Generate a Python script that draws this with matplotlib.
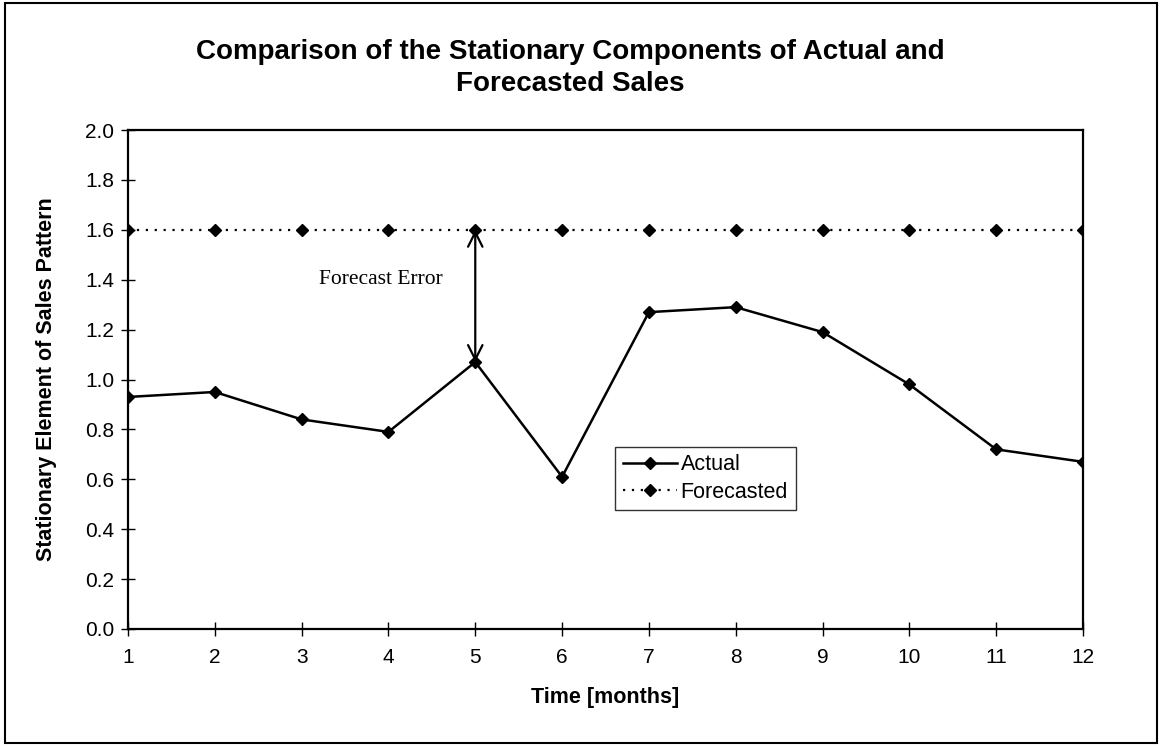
import matplotlib
matplotlib.use("Agg")
import matplotlib.pyplot as plt
from matplotlib.patches import Rectangle

# Data
months = [1, 2, 3, 4, 5, 6, 7, 8, 9, 10, 11, 12]
actual = [0.93, 0.95, 0.84, 0.79, 1.07, 0.61, 1.27, 1.29, 1.19, 0.98, 0.72, 0.67]
forecasted = [1.6, 1.6, 1.6, 1.6, 1.6, 1.6, 1.6, 1.6, 1.6, 1.6, 1.6, 1.6]
yticks = [0.0, 0.2, 0.4, 0.6, 0.8, 1.0, 1.2, 1.4, 1.6, 1.8, 2.0]

plt.rcParams['font.family'] = ['Liberation Sans', 'DejaVu Sans']

W, H = 1160, 746
fig = plt.figure(figsize=(W / 100, H / 100), dpi=100)
ax = fig.add_axes([128 / W, 1 - 629 / H, (1083 - 128) / W, (629 - 130) / H])

ax.plot(months, actual, color='black', lw=1.8, marker='D', ms=6.5, label='Actual')
ax.plot(months, forecasted, color='black', lw=1.6, ls=(0, (1, 3)), marker='D', ms=6.5,
        label='Forecasted')

ax.set_xlim(1, 12)
ax.set_ylim(0, 2.0)
ax.set_xticks(months)
ax.set_yticks(yticks)
ax.set_yticklabels([f"{v:.1f}" for v in yticks])
ax.tick_params(direction='inout', length=10, width=1, labelsize=15, pad=5)
ax.tick_params(axis='x', pad=9)
for s in ax.spines.values():
    s.set_linewidth(1.6)

ax.set_xlabel('Time [months]', fontsize=15.5, fontweight='bold', labelpad=14)
ax.set_ylabel('Stationary Element of Sales Pattern', fontsize=15.5, fontweight='bold', labelpad=20)

# forecast error arrow at month 5
ax.annotate('', xy=(5, forecasted[4]), xytext=(5, actual[4]),
            arrowprops=dict(arrowstyle='<->', color='black', lw=1.6,
                            mutation_scale=26, shrinkA=0, shrinkB=0))
ax.text(3.91, 1.40, 'Forecast Error', family='Liberation Serif', fontsize=15.5,
        ha='center', va='center')

leg = ax.legend(loc='upper left', bbox_to_anchor=(0.51, 0.365), fontsize=15.5,
                frameon=True, fancybox=False, edgecolor='black', handlelength=2.55,
                handletextpad=0.15, borderpad=0.35, labelspacing=0.3, borderaxespad=0)
leg.get_frame().set_linewidth(1.0)

fig.text(570 / W, 1 - 68 / H,
         'Comparison of the Stationary Components of Actual and\nForecasted Sales',
         ha='center', va='center', fontsize=20, fontweight='bold', linespacing=1.3)

# outer chart border
fig.patches.append(Rectangle((5 / W, 3 / H), 1152 / W, 740 / H, transform=fig.transFigure,
                             fill=False, edgecolor='black', lw=1.5))

fig.savefig('out.png', dpi=100)
